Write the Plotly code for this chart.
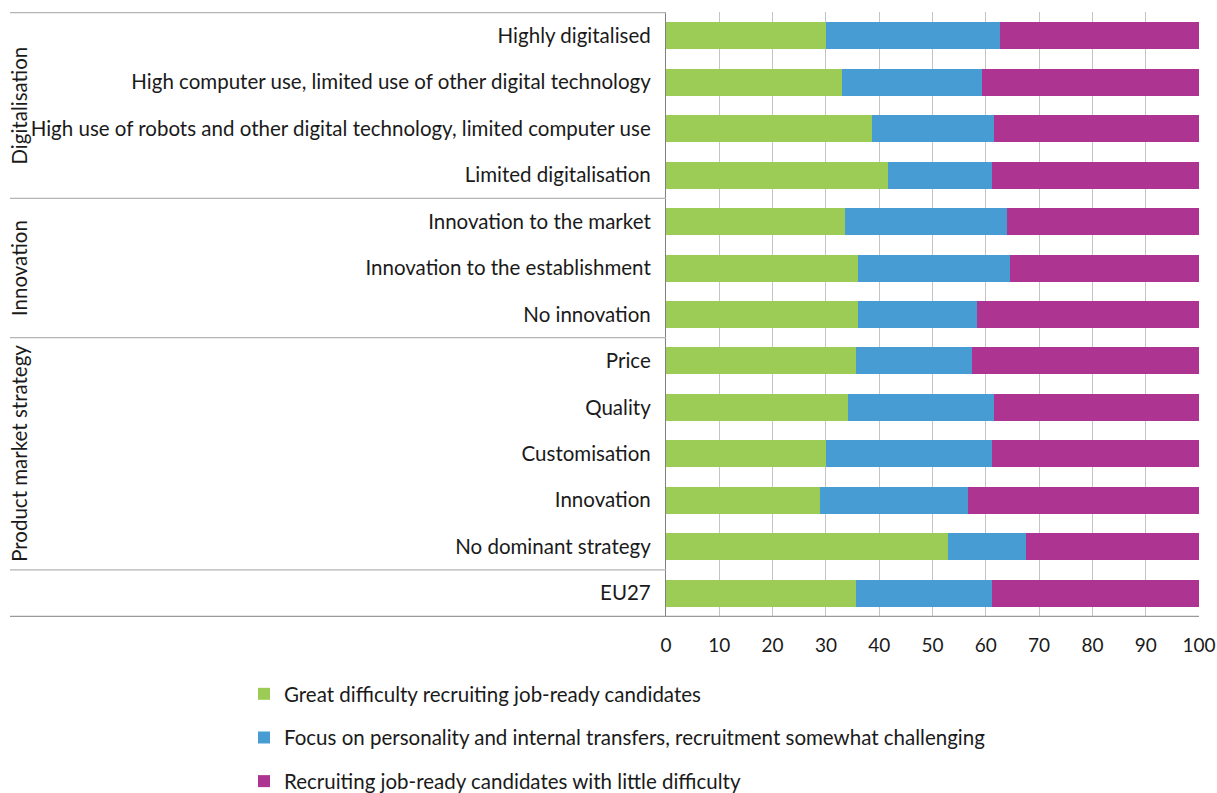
import plotly.graph_objects as go

categories = [
    "Highly digitalised",
    "High computer use, limited use of other digital technology",
    "High use of robots and other digital technology, limited computer use",
    "Limited digitalisation",
    "Innovation to the market",
    "Innovation to the establishment",
    "No innovation",
    "Price",
    "Quality",
    "Customisation",
    "Innovation",
    "No dominant strategy",
    "EU27",
]
great_difficulty = [30.0, 33.1, 38.7, 41.7, 33.5, 36.1, 36.1, 35.7, 34.2, 30.1, 28.9, 53.0, 35.7]
somewhat_challenging = [32.7, 26.2, 22.9, 19.5, 30.4, 28.5, 22.2, 21.8, 27.4, 31.1, 27.8, 14.6, 25.5]
little_difficulty = [37.3, 40.7, 38.4, 38.8, 36.1, 35.4, 41.7, 42.5, 38.4, 38.8, 43.3, 32.4, 38.8]

series_names = [
    "Great difficulty recruiting job-ready candidates",
    "Focus on personality and internal transfers, recruitment somewhat challenging",
    "Recruiting job-ready candidates with little difficulty",
]
colors = ["#9CCC56", "#489CD4", "#AE3492"]

# group name, first row index, last row index
groups = [("Digitalisation", 0, 3), ("Innovation", 4, 6), ("Product market strategy", 7, 11)]
x_ticks = list(range(0, 101, 10))

FONT = "Lato"
FS = 20.5
W, H = 1217, 793
L, R, T, B = 666, 18, 12, 176
pw = W - L - R
left_px = 10
x_left = (left_px - L) / pw

fig = go.Figure()
for name, vals, col in zip(series_names, [great_difficulty, somewhat_challenging, little_difficulty], colors):
    fig.add_trace(go.Bar(
        y=categories, x=vals, name=name, orientation="h",
        marker=dict(color=col, line=dict(width=0)),
        legendgroup=name,
    ))

# separators between groups (left label area)
bounds = [-0.5] + [g[2] + 0.5 for g in groups] + [len(categories) - 0.5]
for b in bounds[:-1]:
    fig.add_shape(type="line", xref="paper", yref="y", x0=x_left, x1=0, y0=b, y1=b,
                  line=dict(color="#b4b4b4", width=1.3), layer="above")
fig.add_shape(type="line", xref="paper", yref="y", x0=x_left, x1=1, y0=bounds[-1], y1=bounds[-1],
              line=dict(color="#9a9a9a", width=1.3), layer="above")

for name, a, b in groups:
    fig.add_annotation(text=name, xref="paper", yref="y", x=(19 - L) / pw, y=(a + b) / 2,
                       textangle=-90, showarrow=False, xanchor="center", yanchor="middle",
                       font=dict(size=FS, color="#1a1a1a", family=FONT))

fig.update_layout(
    width=W, height=H,
    margin=dict(l=L, r=R, t=T, b=B, autoexpand=False),
    barmode="stack", bargap=0.42,
    plot_bgcolor="white", paper_bgcolor="white",
    font=dict(family=FONT, size=FS, color="#1a1a1a"),
    showlegend=True,
    legend=dict(orientation="v", xref="container", yref="container",
                x=244 / W, xanchor="left", y=1 - 674 / H, yanchor="top",
                tracegroupgap=14, font=dict(size=FS, family=FONT, color="#1a1a1a"),
                traceorder="grouped"),
    xaxis=dict(range=[0, 100], tickvals=x_ticks, showgrid=True, gridcolor="#c4c4c4", gridwidth=1,
               zeroline=False, showline=False, ticks="", tickfont=dict(size=19, family=FONT),
               ticklabelstandoff=15, fixedrange=True, automargin=False),
    yaxis=dict(categoryorder="array", categoryarray=categories, autorange="reversed",
               showline=True, linecolor="#808080", linewidth=1.3, ticks="", ticklabelstandoff=10,
               tickfont=dict(size=FS, family=FONT), showgrid=False, automargin=False),
)

# drop the browser's default body margin so the figure fills the window exactly
fig.write_html("out.html", config={"displayModeBar": False},
               post_script="document.body.style.margin='0';")
